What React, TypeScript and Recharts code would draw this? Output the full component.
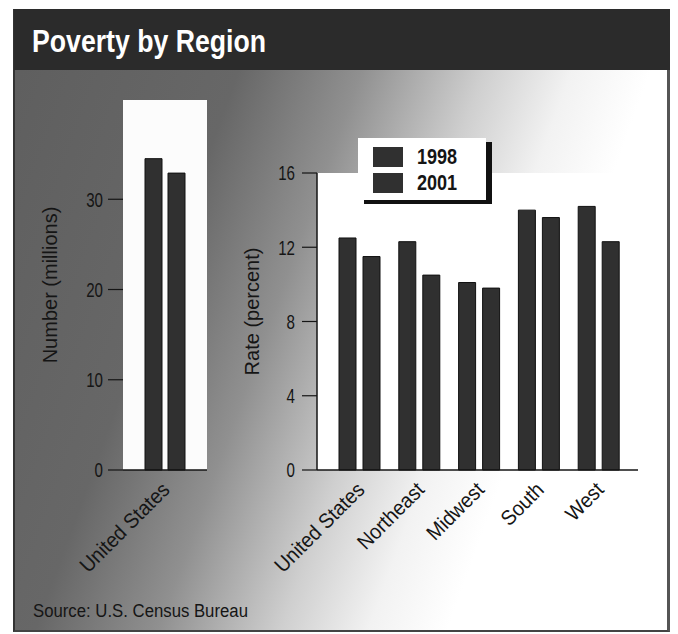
import React from 'react';
import { BarChart, Bar, XAxis, YAxis, CartesianGrid, Legend } from 'recharts';

const regions = ['United States', 'Northeast', 'Midwest', 'South', 'West'];
const rate1998 = [12.5, 12.3, 10.1, 14.0, 14.2];
const rate2001 = [11.5, 10.5, 9.8, 13.6, 12.3];
const rateTicks = [0, 4, 8, 12, 16];

const totalRegions = ['United States'];
const number1998 = [34.5];
const number2001 = [32.9];
const numberTicks = [0, 10, 20, 30];

const years = ['1998', '2001'];

const FONT = "'Liberation Sans', Arial, sans-serif";
const INK = '#151515';
const BAR = '#303030';

const rateData = regions.map((r, i) => ({ region: r, y1998: rate1998[i], y2001: rate2001[i] }));
const numberData = totalRegions.map((r, i) => ({ region: r, y1998: number1998[i], y2001: number2001[i] }));

// no condensed face installed, so squeeze the text horizontally
const NarrowText = ({ x, y, angle = 0, k = 0.9, size = 20, anchor = 'middle', dy = '0.35em', weight = 400, children }: any) => (
  <text
    transform={`translate(${x},${y}) rotate(${angle}) scale(${k},1)`}
    textAnchor={anchor}
    dy={dy}
    fill={INK}
    fontSize={size}
    fontWeight={weight}
    fontFamily={FONT}
  >
    {children}
  </text>
);

const SlantTick = ({ x, y, payload }: any) => (
  <NarrowText x={x + 6} y={y + 13} angle={-45} k={0.93} size={21} anchor="end" dy={0}>
    {payload.value}
  </NarrowText>
);

const ValueTick = ({ x, y, payload }: any) => (
  <NarrowText x={x} y={y} k={0.72} size={21} anchor="end">
    {payload.value}
  </NarrowText>
);

const axisTitle = (text: string, dx: number, dyShift: number) => ({ viewBox }: any) => (
  <NarrowText x={viewBox.x + dx} y={viewBox.y + viewBox.height / 2 + dyShift} angle={-90} k={1} size={20}>
    {text}
  </NarrowText>
);

const LegendBox = ({ payload }: any) => (
  <div
    style={{
      background: '#fff',
      width: 128,
      padding: '9px 0 7px 15px',
      boxSizing: 'border-box',
      boxShadow: '6px 4px 0 #111',
      fontFamily: FONT,
    }}
  >
    {(payload || []).map((p: any, i: number) => (
      <div key={i} style={{ display: 'flex', alignItems: 'center', height: 20, marginBottom: i === 0 ? 6 : 0 }}>
        <span style={{ width: 30, height: 20, background: p.color, display: 'inline-block', marginRight: 14, flexShrink: 0 }} />
        <span style={{ fontSize: 22, fontWeight: 700, color: INK, display: 'inline-block', transform: 'scaleX(0.82)', transformOrigin: 'left' }}>
          {p.value}
        </span>
      </div>
    ))}
  </div>
);

export default function App() {
  return (
    <div style={{ position: 'absolute', left: 0, top: 0, width: 678, height: 634, background: '#fff', overflow: 'hidden', fontFamily: FONT }}>
      <div
        style={{
          position: 'absolute', left: 13, top: 9, width: 657, height: 623,
          borderLeft: '2px solid #333', borderRight: '3px solid #555', borderBottom: '2px solid #444',
          boxSizing: 'border-box',
          background: 'linear-gradient(110deg, #5e5e5e 0%, #676767 28%, #909090 42%, #cfcfcf 56%, #f2f2f2 66%, #ffffff 75%)',
        }}
      />
      <div style={{ position: 'absolute', left: 14, top: 9, width: 656, height: 61, background: '#2b2b2b' }} />
      <div
        style={{
          position: 'absolute', left: 32, top: 22, color: '#fff', fontSize: 31, fontWeight: 700, lineHeight: '40px',
          whiteSpace: 'nowrap', transform: 'scaleX(0.86)', transformOrigin: 'left',
        }}
      >
        Poverty by Region
      </div>

      {/* left: number in millions */}
      <div style={{ position: 'absolute', left: 40, top: 80 }}>
        <BarChart width={200} height={500} data={numberData} margin={{ top: 20, right: 33, left: 0, bottom: 20 }} barSize={17} barGap={6}>
          <CartesianGrid fill="#fcfcfc" horizontal={false} vertical={false} />
          <XAxis
            dataKey="region"
            height={90}
            interval={0}
            tickLine={false}
            axisLine={{ stroke: INK, strokeWidth: 1.5 }}
            tick={<SlantTick />}
          />
          <YAxis
            width={83}
            domain={[0, 41]}
            ticks={numberTicks}
            axisLine={false}
            tickSize={15}
            tickMargin={5}
            tickLine={{ stroke: INK, strokeWidth: 1.2 }}
            tick={<ValueTick />}
            label={{ content: axisTitle('Number (millions)', 10, 0) }}
          />
          <Bar dataKey="y1998" name={years[0]} fill={BAR} stroke="#111" isAnimationActive={false} />
          <Bar dataKey="y2001" name={years[1]} fill={BAR} stroke="#111" isAnimationActive={false} />
        </BarChart>
      </div>

      {/* right: rate in percent */}
      <div style={{ position: 'absolute', left: 230, top: 130 }}>
        <BarChart width={440} height={450} data={rateData} margin={{ top: 43, right: 32, left: 0, bottom: 20 }} barSize={17} barGap={7}>
          <CartesianGrid fill="#ffffff" horizontal={false} vertical={false} />
          <XAxis
            dataKey="region"
            height={90}
            interval={0}
            padding={{ left: 13, right: 9 }}
            tickLine={false}
            axisLine={{ stroke: INK, strokeWidth: 1.5 }}
            tick={<SlantTick />}
          />
          <XAxis xAxisId="top" dataKey="region" orientation="top" height={0} tick={false} tickLine={false} axisLine={{ stroke: INK, strokeWidth: 1.5 }} />
          <YAxis
            width={87}
            domain={[0, 16]}
            ticks={rateTicks}
            axisLine={{ stroke: INK, strokeWidth: 1.5 }}
            tickSize={15}
            tickMargin={7}
            tickLine={{ stroke: INK, strokeWidth: 1.2 }}
            tick={<ValueTick />}
            label={{ content: axisTitle('Rate (percent)', 22, -10) }}
          />
          <YAxis yAxisId="right" orientation="right" width={0} domain={[0, 16]} tick={false} tickLine={false} axisLine={{ stroke: INK, strokeWidth: 1.5 }} />
          <Legend
            layout="vertical"
            align="center"
            verticalAlign="middle"
            wrapperStyle={{ position: 'absolute', left: 128, top: 8, width: 'auto' }}
            content={<LegendBox />}
          />
          <Bar dataKey="y1998" name={years[0]} fill={BAR} stroke="#111" isAnimationActive={false} />
          <Bar dataKey="y2001" name={years[1]} fill={BAR} stroke="#111" isAnimationActive={false} />
        </BarChart>
      </div>

      <div
        style={{
          position: 'absolute', left: 33, top: 600, fontSize: 18, color: INK, lineHeight: '22px',
          whiteSpace: 'nowrap', transform: 'scaleX(0.93)', transformOrigin: 'left',
        }}
      >
        Source: U.S. Census Bureau
      </div>
    </div>
  );
}
